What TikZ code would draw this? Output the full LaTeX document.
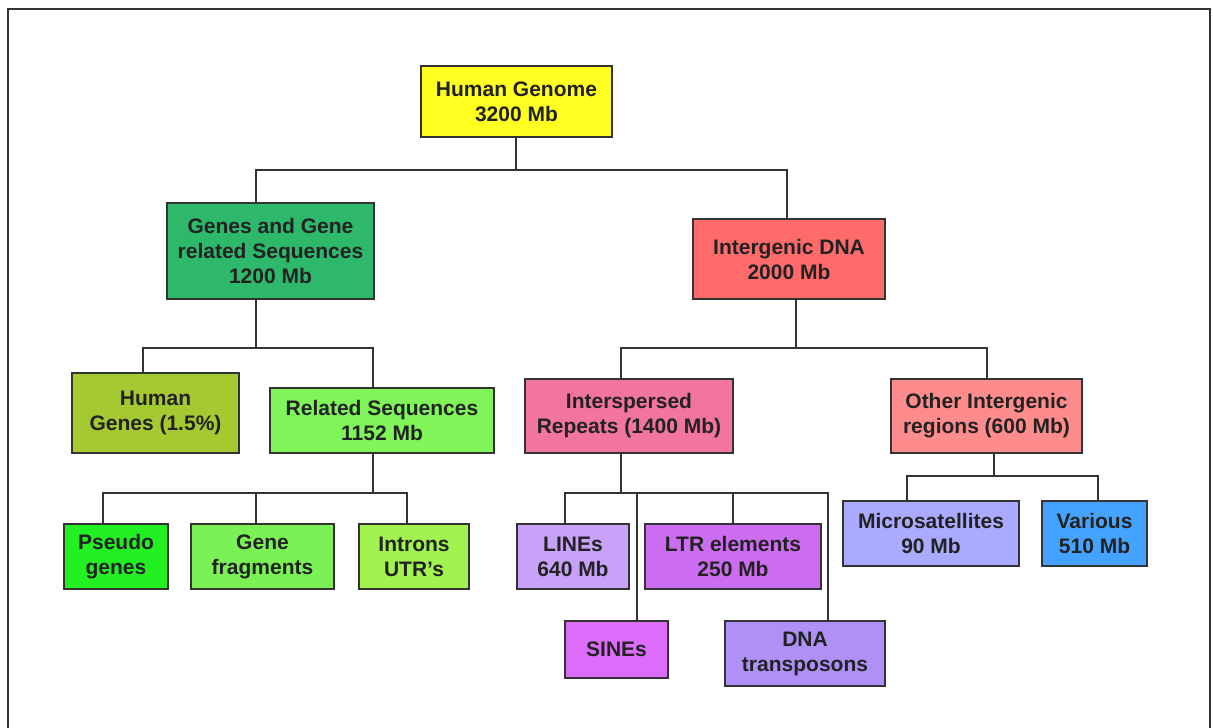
\documentclass[tikz,border=0pt]{standalone}
\usepackage{fontspec}
\setmainfont{Liberation Sans}
\usetikzlibrary{calc}
\definecolor{cyel}{HTML}{FFFF22}
\definecolor{cgenes}{HTML}{2DB86B}
\definecolor{cinter}{HTML}{FF6A6A}
\definecolor{chuman}{HTML}{A5C930}
\definecolor{crel}{HTML}{80F55A}
\definecolor{cpseudo}{HTML}{22F022}
\definecolor{cfrag}{HTML}{7AF255}
\definecolor{cintron}{HTML}{A2F250}
\definecolor{crep}{HTML}{F2759E}
\definecolor{cother}{HTML}{FF8C8C}
\definecolor{clines}{HTML}{C8A2F8}
\definecolor{cltr}{HTML}{CC6CF0}
\definecolor{csines}{HTML}{DE6CFA}
\definecolor{cdna}{HTML}{AE90F7}
\definecolor{cmicro}{HTML}{AAAAFF}
\definecolor{cvar}{HTML}{45A3FF}
\definecolor{cline}{HTML}{333333}
\definecolor{ctext}{HTML}{222222}
\tikzset{
  box/.style={draw=cline, line width=1.3pt, anchor=north west, inner sep=0pt, outer sep=0pt,
    align=center, text=ctext, font=\bfseries\fontsize{21}{25}\selectfont},
  conn/.style={draw=cline, line width=1.3pt},
}
\begin{document}
\begin{tikzpicture}[x=1pt,y=-1pt]
\useasboundingbox (0,0) rectangle (1213,728);
\draw[cline, line width=1.2pt] (8,728) -- (8,9) -- (1210,9) -- (1210,728);
% nodes
\node[box, fill=cyel, minimum width=191, minimum height=71] (hg) at (421,66) {Human Genome\\3200 Mb};
\node[box, fill=cgenes, minimum width=207, minimum height=96] (genes) at (167,203) {Genes and Gene\\related Sequences\\1200 Mb};
\node[box, fill=cinter, minimum width=192, minimum height=80] (inter) at (693,219) {Intergenic DNA\\2000 Mb};
\node[box, fill=chuman, minimum width=167, minimum height=80] (human) at (72,373) {Human\\Genes (1.5\%)};
\node[box, fill=crel, minimum width=224, minimum height=65] (rel) at (270,388) {Related Sequences\\1152 Mb};
\node[box, fill=crep, minimum width=208, minimum height=74] (rep) at (525,379) {Interspersed\\Repeats (1400 Mb)};
\node[box, fill=cother, minimum width=191, minimum height=74] (other) at (891,379) {Other Intergenic\\regions (600 Mb)};
\node[box, fill=cpseudo, minimum width=104, minimum height=65] (pseudo) at (64,524) {Pseudo\\genes};
\node[box, fill=cfrag, minimum width=143, minimum height=65] (frag) at (191,524) {Gene\\fragments};
\node[box, fill=cintron, minimum width=110, minimum height=65] (intron) at (359,524) {Introns\\UTR’s};
\node[box, fill=clines, minimum width=112, minimum height=65] (lines) at (517,524) {LINEs\\640 Mb};
\node[box, fill=cltr, minimum width=176, minimum height=65] (ltr) at (645,524) {LTR elements\\250 Mb};
\node[box, fill=csines, minimum width=103, minimum height=57] (sines) at (565,621) {SINEs};
\node[box, fill=cdna, minimum width=160, minimum height=65] (dna) at (725,621) {DNA\\transposons};
\node[box, fill=cmicro, minimum width=176, minimum height=65] (micro) at (843,501) {Microsatellites\\90 Mb};
\node[box, fill=cvar, minimum width=105, minimum height=65] (var) at (1042,501) {Various\\510 Mb};
% bus levels
\coordinate (y1) at (0,170);
\coordinate (y2) at (0,348);
\coordinate (y3) at (0,493);
\coordinate (y6) at (0,476);
% connectors
\coordinate (hs) at ([xshift=-0.5pt]hg.south);
\coordinate (j1) at (hs |- y1);
\draw[conn] (hs) -- (j1);
\draw[conn] (j1) -| ([xshift=-14.5pt]genes.north);
\draw[conn] (j1) -| ([xshift=-2pt]inter.north);
\coordinate (gs) at ([xshift=-14.5pt]genes.south);
\coordinate (j2) at (gs |- y2);
\draw[conn] (gs) -- (j2);
\draw[conn] (j2) -| ([xshift=-12.5pt]human.north);
\draw[conn] (j2) -| ([xshift=-9pt]rel.north);
\coordinate (rs) at ([xshift=-9pt]rel.south);
\coordinate (j3) at (rs |- y3);
\draw[conn] (rs) -- (j3);
\draw[conn] (j3) -| ([xshift=-13pt]pseudo.north);
\draw[conn] (j3) -| ([xshift=-6.5pt]frag.north);
\draw[conn] (j3) -| ([xshift=-7pt]intron.north);
\coordinate (is) at ([xshift=7pt]inter.south);
\coordinate (j4) at (is |- y2);
\draw[conn] (is) -- (j4);
\draw[conn] (j4) -| ([xshift=-8pt]rep.north);
\draw[conn] (j4) -| ([xshift=0.5pt]other.north);
\coordinate (ps) at ([xshift=-8pt]rep.south);
\coordinate (j5) at (ps |- y3);
\draw[conn] (ps) -- (j5);
\draw[conn] (j5) -| ([xshift=-8pt]lines.north);
\draw[conn] (j5) -| ([xshift=20.5pt]sines.north);
\draw[conn] (j5) -| (ltr.north);
\draw[conn] (j5) -| ([xshift=23pt]dna.north);
\coordinate (os) at ([xshift=7.5pt]other.south);
\coordinate (j6) at (os |- y6);
\draw[conn] (os) -- (j6);
\draw[conn] (j6) -| ([xshift=-24pt]micro.north);
\draw[conn] (j6) -| ([xshift=3.5pt]var.north);
\end{tikzpicture}
\end{document}
